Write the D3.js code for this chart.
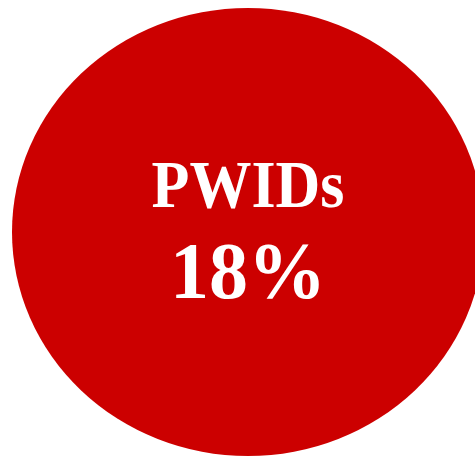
<!DOCTYPE html>
<html>
<head>
<meta charset="utf-8">
<script src="https://cdnjs.cloudflare.com/ajax/libs/d3/7.8.5/d3.min.js"></script>
<style>
  body { margin: 0; background: #fff; }
  svg { display: block; }
  text { font-family: "Liberation Serif", "Times New Roman", serif; font-weight: bold; fill: #fff; }
</style>
</head>
<body>
<svg width="475" height="457"></svg>
<script>
// data
var groups = ["PWIDs"];
var shares = [18];

var svg = d3.select("svg");

var data = groups.map((g, i) => ({ group: g, share: shares[i] }));

var bubble = svg.selectAll("g.bubble")
  .data(data)
  .enter()
  .append("g")
    .attr("class", "bubble")
    .attr("transform", "translate(248, 232)");

bubble.append("ellipse")
  .attr("rx", 236)
  .attr("ry", 224)
  .attr("fill", "#cc0000");

// glyphs in the original are a bit taller than wide
bubble.append("text")
  .attr("text-anchor", "middle")
  .attr("transform", "translate(0,-25) scale(1,1.1)")
  .attr("font-size", 62)
  .text(d => d.group);

bubble.append("text")
  .attr("text-anchor", "middle")
  .attr("transform", "translate(0,66) scale(1,1.02)")
  .attr("font-size", 78)
  .text(d => d.share + "%");
</script>
</body>
</html>
